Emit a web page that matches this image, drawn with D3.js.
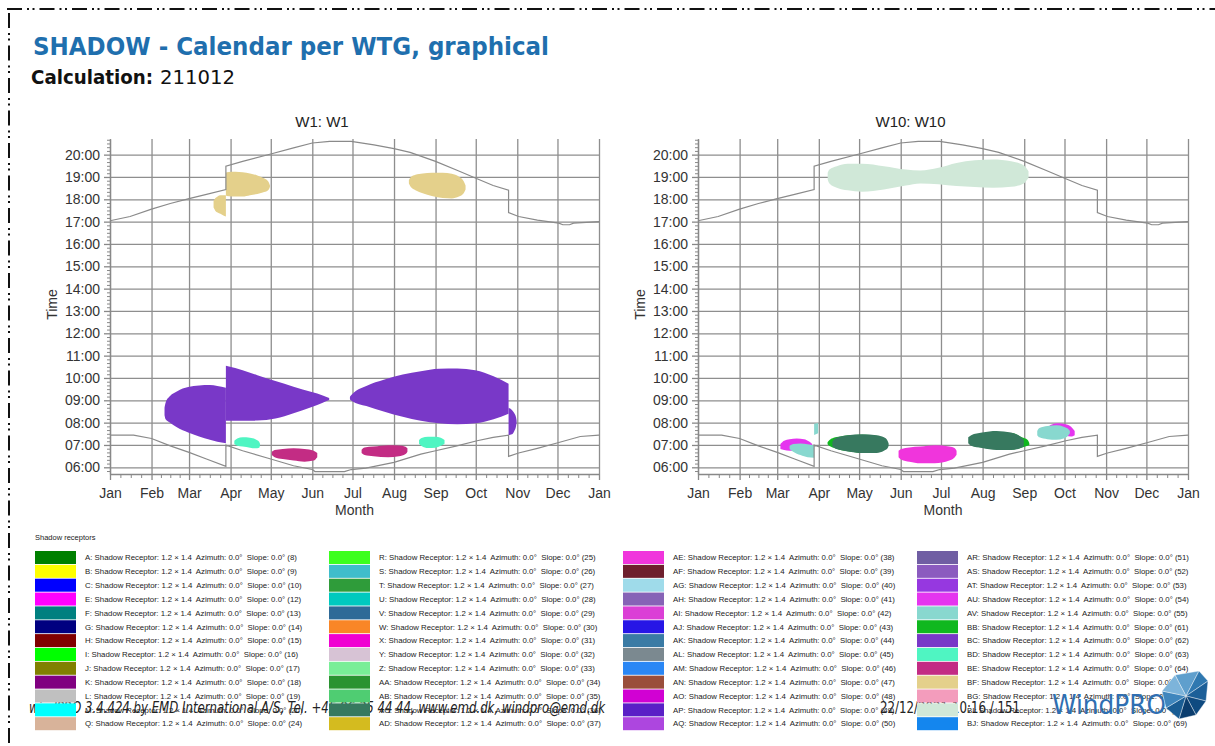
<!DOCTYPE html>
<html>
<head>
<meta charset="utf-8">
<title>SHADOW - Calendar per WTG, graphical</title>
<script src="https://cdn.jsdelivr.net/npm/d3@7/dist/d3.min.js"></script>
<style>
  html, body { margin: 0; padding: 0; background: #fff; }
  svg { display: block; font-family: "Liberation Sans", Arial, sans-serif; }
</style>
</head>
<body>
<svg id="page" width="1215" height="746"></svg>
<script>
// ---- Axis data -------------------------------------------------------------
const monthLabels = ["Jan","Feb","Mar","Apr","May","Jun","Jul","Aug","Sep","Oct","Nov","Dec","Jan"];
const monthStarts = [0, 31, 59, 90, 120, 151, 181, 212, 243, 273, 304, 334, 365];
const hourTicks = [6, 7, 8, 9, 10, 11, 12, 13, 14, 15, 16, 17, 18, 19, 20];
const timeDomain = [5.7, 20.7];

// ---- Sunset / sunrise (day of year, hour) -----------------------------------
const sunset = [[0,17.04],[15,17.23],[31,17.56],[45,17.81],[59,18.03],[72,18.22],[86.5,18.44],[86.5,19.48],
  [99,19.70],[120,20.03],[137,20.30],[151,20.52],[164,20.59],[180,20.59],[197,20.44],[212,20.27],[224,20.10],
  [243,19.70],[259,19.30],[274,18.92],[286,18.62],[297.5,18.41],[297.5,17.41],[305,17.23],[319,17.07],
  [335,16.93],[338,16.86],[343,16.86],[346,16.93],[365,17.0]];
const sunrise = [[0,7.44],[17.6,7.44],[31,7.29],[45,6.96],[59,6.67],[72,6.37],[86.5,6.04],[86.5,6.99],
  [99,6.74],[120,6.37],[137,6.07],[151,5.90],[153,5.81],[175,5.81],[180,5.90],[191,5.96],[212,6.22],
  [232,6.59],[243,6.74],[259,6.96],[274,7.19],[286,7.34],[297.5,7.44],[297.5,6.49],[305,6.64],[319,6.85],
  [335,7.11],[351,7.38],[365,7.44]];

// ---- Shadow periods: [day of year, shadow starts (h), shadow ends (h)] -------
// W1
const w1_BF_mar = [[77.3,17.63,17.93],[78.7,17.48,18.06],[80.3,17.41,18.13],[82.4,17.35,18.18],[84.3,17.29,18.18],[86.5,17.23,18.18]];
const w1_BF_apr = [[86.5,18.18,19.19],[87.2,18.15,19.21],[93.6,18.12,19.23],[99,18.12,19.21],[104.5,18.18,19.16],[110,18.24,19.07],[114,18.30,18.96],[118,18.40,18.81],[119.4,18.56,18.62]];
const w1_BF_sep = [[223.1,18.71,18.86],[224.4,18.56,18.99],[228,18.41,19.10],[233.4,18.27,19.16],[240.2,18.15,19.19],[248.3,18.06,19.19],[255.1,18.04,19.14],[260.5,18.12,19.01],[264,18.27,18.81],[265.4,18.44,18.62]];
const w1_BC_feb = [[40.7,8.33,8.67],[41.5,8.15,8.89],[44.8,8.00,9.19],[50.2,7.78,9.41],[58.3,7.56,9.59],[66.5,7.38,9.66],[74.6,7.23,9.68],[80.1,7.14,9.64],[86.5,7.08,9.56]];
const w1_BC_apr = [[86.5,8.08,10.55],[88,8.08,10.53],[99,8.08,10.35],[110,8.09,10.12],[123.5,8.18,9.86],[137,8.42,9.61],[150.6,8.70,9.37],[158.8,8.89,9.22],[163.6,9.01,9.10]];
const w1_BC_jul = [[179.1,9.04,9.16],[180.5,8.97,9.26],[191.3,8.74,9.64],[204.9,8.49,9.93],[218.5,8.26,10.15],[232,8.08,10.30],[245.6,7.97,10.41],[259.2,7.93,10.42],[272.7,7.97,10.35],[286.3,8.15,10.08],[297.5,8.40,9.74]];
const w1_BC_oct = [[297.5,7.44,8.67],[300,7.48,8.57],[301.8,7.63,8.42],[303.1,7.85,8.23],[303.5,8.00,8.08]];
const w1_BD_apr = [[92.8,7.04,7.19],[95,6.96,7.29],[99,6.93,7.34],[104.5,6.88,7.32],[108.5,6.85,7.26],[111.3,6.88,7.14],[112,6.99,7.04]];
const w1_BD_sep = [[230.7,7.04,7.22],[232.6,6.95,7.31],[237.4,6.86,7.37],[242.9,6.88,7.37],[246.9,6.96,7.32],[249.7,7.06,7.22]];
const w1_BE_may = [[120.8,6.55,6.70],[122.9,6.45,6.77],[128.9,6.37,6.82],[137,6.30,6.85],[145.2,6.25,6.82],[152,6.30,6.74],[154.7,6.45,6.64]];
const w1_BE_jul = [[187.8,6.64,6.79],[190,6.55,6.89],[196.7,6.49,6.93],[207.6,6.45,6.99],[215.7,6.49,6.98],[220.6,6.59,6.92],[222,6.70,6.85]];

// W10
const w10_BI = [[96.6,18.89,19.19],[97.9,18.71,19.33],[103.4,18.52,19.48],[111.5,18.40,19.59],[122.3,18.34,19.59],[138.5,18.44,19.48],[154.8,18.62,19.33],[165.6,18.71,19.29],[179.1,18.67,19.41],[192.6,18.59,19.63],[206.2,18.55,19.75],[219.7,18.52,19.78],[233.2,18.56,19.70],[242.7,18.71,19.51],[246.2,18.96,19.26]];
const w10_AU_mar = [[61.4,6.82,7.04],[64.1,6.77,7.19],[68.2,6.74,7.26],[73.6,6.74,7.29],[79,6.74,7.26],[83.1,6.82,7.14],[85,6.89,7.04]];
const w10_AV_mar = [[68.2,6.82,6.96],[70.9,6.70,7.04],[76.3,6.55,7.07],[81.7,6.45,7.03],[86.5,6.43,6.98]];
const w10_AV_apr = [[86.5,7.45,7.95],[89.5,7.52,7.98]];
const w10_BB_apr = [[96.5,7.03,7.12],[98,6.95,7.22],[101,6.87,7.32],[106,6.78,7.38],[112,6.72,7.43],[120,6.66,7.46],[130,6.66,7.44],[136,6.72,7.36],[139,6.82,7.22],[140,6.95,7.08]];
const w10_AC_apr = [[100.1,6.93,7.14],[102,6.85,7.29],[106.1,6.77,7.38],[111.5,6.71,7.44],[122.3,6.64,7.48],[133.1,6.64,7.44],[138.5,6.74,7.34],[141.2,6.85,7.19],[142,6.96,7.07]];
const w10_AE_jun = [[149.4,6.45,6.74],[151.5,6.34,6.82],[157.5,6.25,6.89],[165.6,6.18,6.93],[176.4,6.18,6.99],[187.2,6.30,6.93],[191.3,6.45,6.85],[192.6,6.56,6.74]];
const w10_BB_aug = [[205,6.95,7.30],[215,6.85,7.48],[225,6.80,7.56],[235,6.80,7.52],[241.3,6.89,7.34],[245.4,6.96,7.23],[246.8,7.00,7.08]];
const w10_AC_aug = [[201.3,7.08,7.34],[203.5,6.96,7.44],[211.6,6.86,7.56],[222.4,6.77,7.63],[233.2,6.77,7.56],[240,6.85,7.38],[242.7,6.93,7.23]];
const w10_AU_oct = [[260.3,7.63,7.78],[263,7.56,7.91],[268.4,7.48,7.97],[273.8,7.41,7.93],[277.9,7.38,7.82],[280.6,7.44,7.63]];
const w10_AV_oct = [[252.7,7.44,7.63],[254.3,7.34,7.76],[260.3,7.26,7.85],[267,7.23,7.88],[272.4,7.29,7.82],[276,7.44,7.70],[277,7.52,7.62]];

// ---- Shadow receptor legend -------------------------------------------------
const receptorIds = ["A","B","C","E","F","G","H","I","J","K","L","M","Q",
  "R","S","T","U","V","W","X","Y","Z","AA","AB","AC","AD",
  "AE","AF","AG","AH","AI","AJ","AK","AL","AM","AN","AO","AP","AQ",
  "AR","AS","AT","AU","AV","BB","BC","BD","BE","BF","BG","BI","BJ"];
const receptorNumbers = [8,9,10,12,13,14,15,16,17,18,19,20,24,
  25,26,27,28,29,30,31,32,33,34,35,36,37,
  38,39,40,41,42,43,44,45,46,47,48,49,50,
  51,52,53,54,55,61,62,63,64,65,66,68,69];
const receptorColors = ["#008000","#ffff00","#0000ff","#ff00ff","#008080","#000080","#800000","#00ff00","#808000","#800080","#c0c0c0","#00ffff","#d8b39a",
  "#3cff1e","#3fbdcb","#2f9c3a","#00c9bf","#2e6a97","#f98627","#f000d2","#d7c3d5","#79ee97","#2a9331","#4fcd72","#37795f","#d4bb1f",
  "#f035dc","#6e1f2d","#9fdbea","#8663b6","#db3fd6","#2716e6","#3a7ba5","#7b8990","#2a87f5","#9a4e3b","#d101d3","#5a1fc6","#ad46df",
  "#705ea3","#8b5bbf","#9638e0","#e535ef","#88d8cf","#10b81f","#7938c8","#4ff5c2","#c32c84","#e4d08b","#f39cbc","#d0e8d8","#1486ee"];
const receptorColor = id => receptorColors[receptorIds.indexOf(id)];

// ---- Chart definitions ------------------------------------------------------
const w1Series = [["BF",w1_BF_mar],["BF",w1_BF_apr],["BF",w1_BF_sep],["BC",w1_BC_feb],["BC",w1_BC_apr],
  ["BC",w1_BC_jul],["BC",w1_BC_oct],["BD",w1_BD_apr],["BD",w1_BD_sep],["BE",w1_BE_may],["BE",w1_BE_jul]];
const w10Series = [["BI",w10_BI],["AU",w10_AU_mar],["AV",w10_AV_mar],["AV",w10_AV_apr],["BB",w10_BB_apr],
  ["AC",w10_AC_apr],["AE",w10_AE_jun],["BB",w10_BB_aug],["AC",w10_AC_aug],["AU",w10_AU_oct],["AV",w10_AV_oct]];

const svg = d3.select("#page");

// ---- Page frame -------------------------------------------------------------
svg.append("line").attr("x1", 7).attr("y1", 9).attr("x2", 1215).attr("y2", 9)
  .attr("stroke", "#111").attr("stroke-width", 2).attr("stroke-dasharray", "15,5,2,3.5,2,5");
svg.append("line").attr("x1", 9).attr("y1", 9).attr("x2", 9).attr("y2", 746)
  .attr("stroke", "#111").attr("stroke-width", 2).attr("stroke-dasharray", "15,5,2,3.5,2,5")
  .attr("stroke-dashoffset", -4);

// ---- Header -----------------------------------------------------------------
svg.append("text").attr("x", 33).attr("y", 55)
  .attr("textLength", 516).attr("lengthAdjust", "spacingAndGlyphs")
  .style("font-family", "'DejaVu Sans', sans-serif").style("font-weight", "bold")
  .style("font-size", "24px").attr("fill", "#1f6fae")
  .text("SHADOW - Calendar per WTG, graphical");
svg.append("text").attr("x", 31).attr("y", 84)
  .attr("textLength", 122).attr("lengthAdjust", "spacingAndGlyphs")
  .style("font-family", "'DejaVu Sans', sans-serif").style("font-weight", "bold")
  .style("font-size", "19.5px").attr("fill", "#111").text("Calculation:");
svg.append("text").attr("x", 160).attr("y", 84)
  .attr("textLength", 75).attr("lengthAdjust", "spacingAndGlyphs")
  .style("font-family", "'DejaVu Sans', sans-serif")
  .style("font-size", "19.5px").attr("fill", "#111").text("211012");

// ---- Calendar charts --------------------------------------------------------
const plotTop = 139, plotBottom = 474;
const gridColor = "#8e8e8e";
const axisFont = { "font-size": "14px", "fill": "#333" };

function styleText(sel) {
  sel.style("font-family", "'Liberation Sans', Arial, sans-serif")
     .style("font-size", axisFont["font-size"]).attr("fill", axisFont.fill);
}

function drawCalendar(cfg) {
  const x = d3.scaleLinear().domain([0, 365]).range([cfg.left, cfg.right]);
  const y = d3.scaleLinear().domain(timeDomain).range([plotBottom, plotTop]);
  const g = svg.append("g");

  // grid
  g.append("g").attr("transform", `translate(0,${plotBottom})`)
    .call(d3.axisBottom(x).tickValues(monthStarts).tickSize(-(plotBottom - plotTop)).tickFormat(""))
    .call(s => s.select(".domain").remove())
    .selectAll("line").attr("stroke", gridColor).attr("stroke-width", 1.3);
  g.append("g").attr("transform", `translate(${cfg.left},0)`)
    .call(d3.axisLeft(y).tickValues(hourTicks).tickSize(-(cfg.right - cfg.left)).tickFormat(""))
    .call(s => s.select(".domain").remove())
    .selectAll("line").attr("stroke", gridColor).attr("stroke-width", 1.3);

  // shadow periods
  const area = d3.area()
    .x(d => x(d[0])).y0(d => y(d[1])).y1(d => y(d[2]))
    .curve(d3.curveMonotoneX);
  g.append("g").selectAll("path").data(cfg.series).join("path")
    .attr("d", d => area(d[1]))
    .attr("fill", d => receptorColor(d[0]));

  // sunrise / sunset
  const line = d3.line().x(d => x(d[0])).y(d => y(d[1]));
  g.append("g").selectAll("path").data([sunset, sunrise]).join("path")
    .attr("d", line).attr("fill", "none").attr("stroke", "#8a8a8a").attr("stroke-width", 1.2);

  // axes
  const minorHours = d3.range(35, 125).map(m => m / 6).filter(h => h % 1 !== 0);
  g.append("g").attr("transform", `translate(${cfg.left},0)`)
    .call(d3.axisLeft(y).tickValues(minorHours).tickSize(3).tickFormat(""))
    .call(s => s.select(".domain").remove())
    .selectAll("line").attr("stroke", "#888");
  const yAxis = g.append("g").attr("transform", `translate(${cfg.left},0)`)
    .call(d3.axisLeft(y).tickValues(hourTicks).tickSize(6).tickSizeOuter(0).tickPadding(4)
      .tickFormat(h => d3.format("02")(h) + ":00"));
  yAxis.select(".domain").attr("stroke", "#888").attr("stroke-width", 1.3);
  yAxis.selectAll(".tick line").attr("stroke", "#888").attr("stroke-width", 1.3);
  yAxis.selectAll("text").call(styleText);

  const minorDays = [];
  monthStarts.slice(0, -1).forEach((d, i) => {
    const len = monthStarts[i + 1] - d;
    [1, 2, 3].forEach(k => minorDays.push(d + k * len / 4));
  });
  g.append("g").attr("transform", `translate(0,${plotBottom})`)
    .call(d3.axisBottom(x).tickValues(minorDays).tickSize(4).tickFormat(""))
    .call(s => s.select(".domain").remove())
    .selectAll("line").attr("stroke", "#888");
  const xAxis = g.append("g").attr("transform", `translate(0,${plotBottom})`)
    .call(d3.axisBottom(x).tickValues(monthStarts).tickSize(6).tickSizeOuter(0).tickPadding(8)
      .tickFormat((d, i) => monthLabels[i]));
  xAxis.select(".domain").attr("stroke", "#888").attr("stroke-width", 1.3);
  xAxis.selectAll(".tick line").attr("stroke", "#888").attr("stroke-width", 1.3);
  xAxis.selectAll("text").call(styleText);

  // titles
  g.append("text").attr("x", (cfg.left - 65 + cfg.right) / 2).attr("y", 127)
    .attr("text-anchor", "middle").call(styleText).style("font-size", "15px").attr("fill", "#222")
    .text(cfg.title);
  g.append("text").attr("x", (cfg.left + cfg.right) / 2).attr("y", 515)
    .attr("text-anchor", "middle").call(styleText).text("Month");
  g.append("text").attr("transform", `translate(${cfg.left - 53},${(plotTop + plotBottom) / 2 - 2}) rotate(-90)`)
    .attr("text-anchor", "middle").call(styleText).text("Time");
}

drawCalendar({ left: 110, right: 599, title: "W1: W1", series: w1Series });
drawCalendar({ left: 698, right: 1188, title: "W10: W10", series: w10Series });

// ---- Footer -----------------------------------------------------------------
svg.append("text").attr("x", 29).attr("y", 713)
  .attr("textLength", 576).attr("lengthAdjust", "spacingAndGlyphs")
  .style("font-family", "'DejaVu Sans', sans-serif").style("font-style", "italic")
  .style("font-size", "15px").attr("fill", "#222")
  .text("windPRO 3.4.424  by EMD International A/S, Tel. +45 96 35 44 44, www.emd.dk, windpro@emd.dk");
svg.append("text").attr("x", 880).attr("y", 713)
  .attr("textLength", 140).attr("lengthAdjust", "spacingAndGlyphs")
  .style("font-family", "'DejaVu Sans', sans-serif")
  .style("font-size", "15px").attr("fill", "#222")
  .text("22/12/2021 10:16 / 151");

// ---- Legend -----------------------------------------------------------------
svg.append("text").attr("x", 35).attr("y", 540)
  .style("font-family", "'Liberation Sans', Arial, sans-serif").style("font-size", "7.5px")
  .attr("fill", "#222").text("Shadow receptors");

const legendTop = 551, rowPitch = 13.85, perColumn = 13;
const columnX = [35, 329, 623, 917];
const legendRows = svg.append("g").selectAll("g").data(receptorIds).join("g")
  .attr("transform", (d, i) => `translate(${columnX[Math.floor(i / perColumn)]},${legendTop + (i % perColumn) * rowPitch})`);
legendRows.append("rect").attr("width", 41).attr("height", 13)
  .attr("fill", (d, i) => receptorColors[i]);
const legendText = legendRows.append("text").attr("x", 50).attr("y", 9.3)
  .style("font-family", "'Liberation Sans', Arial, sans-serif").style("font-size", "8px")
  .style("white-space", "pre").attr("fill", "#222")
  .text((d, i) => `${d}: Shadow Receptor: 1.2 \u00d7 1.4  Azimuth: 0.0\u00b0  Slope: 0.0\u00b0 (${receptorNumbers[i]})`);
const firstLen = legendText.node().getComputedTextLength();
legendText.style("font-size", (8 * 212 / firstLen).toFixed(2) + "px");

// ---- WindPRO logo -----------------------------------------------------------
svg.append("text").attr("x", 1052).attr("y", 714)
  .attr("textLength", 114).attr("lengthAdjust", "spacingAndGlyphs")
  .style("font-family", "'DejaVu Sans', sans-serif").style("font-size", "26px")
  .attr("fill", "#2f6fb2").text("WindPRO");
const logoCenter = [1186, 696];
const logoRim = [[1175,675],[1199,671],[1208,681],[1206,701],[1196,715],[1179,719],[1166,708],[1162,691]];
const logoShades = ["#5f9fcd","#2f78b0","#1c5f98","#0f4a80","#0b3d6e","#1a5d94","#3f86bd","#7db4da"];
svg.append("g").selectAll("path").data(logoRim).join("path")
  .attr("d", (p, i) => {
    const q = logoRim[(i + 1) % logoRim.length];
    return d3.line()([p, q, logoCenter]) + "Z";
  })
  .attr("fill", (p, i) => logoShades[i]).attr("stroke", "#fff").attr("stroke-width", 0.4);
</script>
</body>
</html>
